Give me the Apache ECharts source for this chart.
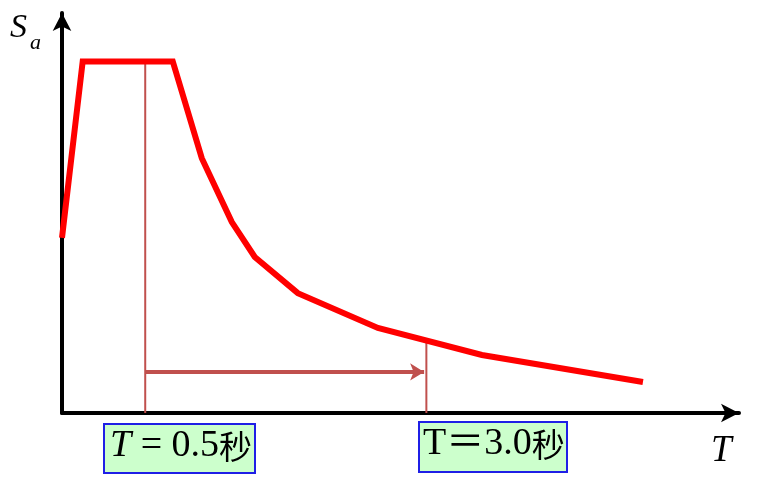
<!DOCTYPE html>
<html>
<head>
<meta charset="utf-8">
<script src="https://cdn.jsdelivr.net/npm/echarts@6/dist/echarts.min.js"></script>
<style>
html,body{margin:0;padding:0;background:#fff;}
#main{width:759px;height:489px;}
</style>
</head>
<body>
<div id="main"></div>
<script>
// 反应谱示意：横轴周期 T（秒），纵轴 Sa（以平台值为 1）
var periodT = [-0.24, -0.056, 0.745, 1.003, 1.270, 1.474, 1.857, 2.569, 3.494, 4.926];
var spectrumSa = [0.498, 1.0, 1.0, 0.725, 0.543, 0.444, 0.341, 0.242, 0.165, 0.088];
// 两条竖线（T=0.5 和 T=3.0）及其顶端
var markT = [0.5, 3.0];
var markTop = [1.0, 0.206];
// 水平箭头高度
var arrowSa = 0.117;
// 标签
var labelItalicT = [true, false];
var labelRest = [' = 0.5', '＝3.0'];
var labelUnit = '秒';

var serif = '"Liberation Serif", "DejaVu Serif", "Noto Sans CJK SC", serif';

var curve = periodT.map(function (t, i) { return [t, spectrumSa[i]]; });

var myChart = echarts.init(document.getElementById('main'));

var vSeries = markT.map(function (t, i) {
    return {
        type: 'line',
        z: 1,
        silent: true,
        symbol: 'none',
        data: [[t, 0], [t, markTop[i]]],
        lineStyle: { color: '#c0504d', width: 2 }
    };
});

var richStyle = {
    i: { font: 'italic 38px ' + serif, fill: '#000' },
    n: { font: '38px ' + serif, fill: '#000' },
    c: { font: '33px "Noto Sans CJK SC", sans-serif', fill: '#000' }
};

function boxText(k) {
    return (labelItalicT[k] ? '{i|T}' : '{n|T}') + '{n|' + labelRest[k] + '}{c|' + labelUnit + '}';
}

var option = {
    animation: false,
    backgroundColor: '#fff',
    grid: { left: 62, right: 20, top: 13, bottom: 76 },
    xAxis: {
        type: 'value',
        min: -0.24,
        max: 5.78,
        axisLine: {
            show: true, onZero: false,
            symbol: ['none', 'arrow'], symbolSize: [14, 18],
            lineStyle: { color: '#000', width: 4 }
        },
        axisTick: { show: false },
        axisLabel: { show: false },
        splitLine: { show: false }
    },
    yAxis: {
        type: 'value',
        min: 0,
        max: 1.138,
        axisLine: {
            show: true, onZero: false,
            symbol: ['none', 'arrow'], symbolSize: [14, 18],
            lineStyle: { color: '#000', width: 4 }
        },
        axisTick: { show: false },
        axisLabel: { show: false },
        splitLine: { show: false }
    },
    series: vSeries.concat([
        {
            type: 'line',
            z: 2,
            silent: true,
            symbol: 'none',
            data: [],
            markLine: {
                silent: true,
                symbol: ['none', 'arrow'],
                symbolSize: [13, 14],
                label: { show: false },
                lineStyle: { color: '#c0504d', width: 4, type: 'solid' },
                data: [[{ coord: [markT[0], arrowSa] }, { coord: [markT[1] - 0.02, arrowSa] }]]
            }
        },
        {
            type: 'line',
            z: 3,
            silent: true,
            symbol: 'none',
            data: curve,
            lineStyle: { color: '#ff0000', width: 6, join: 'miter' }
        }
    ]),
    graphic: [
        { type: 'text', left: 10, top: 11, style: { text: 'S', font: 'italic 34px ' + serif, fill: '#000' } },
        { type: 'text', left: 30, top: 32, style: { text: 'a', font: 'italic 22px ' + serif, fill: '#000' } },
        { type: 'text', left: 711, top: 433, style: { text: 'T', font: 'italic 37px ' + serif, fill: '#000' } },
        {
            type: 'rect', left: 103, top: 423,
            shape: { width: 151, height: 49 },
            style: { fill: '#ccffcc', stroke: '#1f1fe6', lineWidth: 2 }
        },
        {
            type: 'text', left: 110, top: 427,
            style: { text: boxText(0), rich: richStyle }
        },
        {
            type: 'rect', left: 418, top: 421,
            shape: { width: 148, height: 50 },
            style: { fill: '#ccffcc', stroke: '#1f1fe6', lineWidth: 2 }
        },
        {
            type: 'text', left: 423, top: 425,
            style: { text: boxText(1), rich: richStyle }
        }
    ]
};

myChart.setOption(option);
window.addEventListener('resize', function () { myChart.resize(); });
</script>
</body>
</html>
